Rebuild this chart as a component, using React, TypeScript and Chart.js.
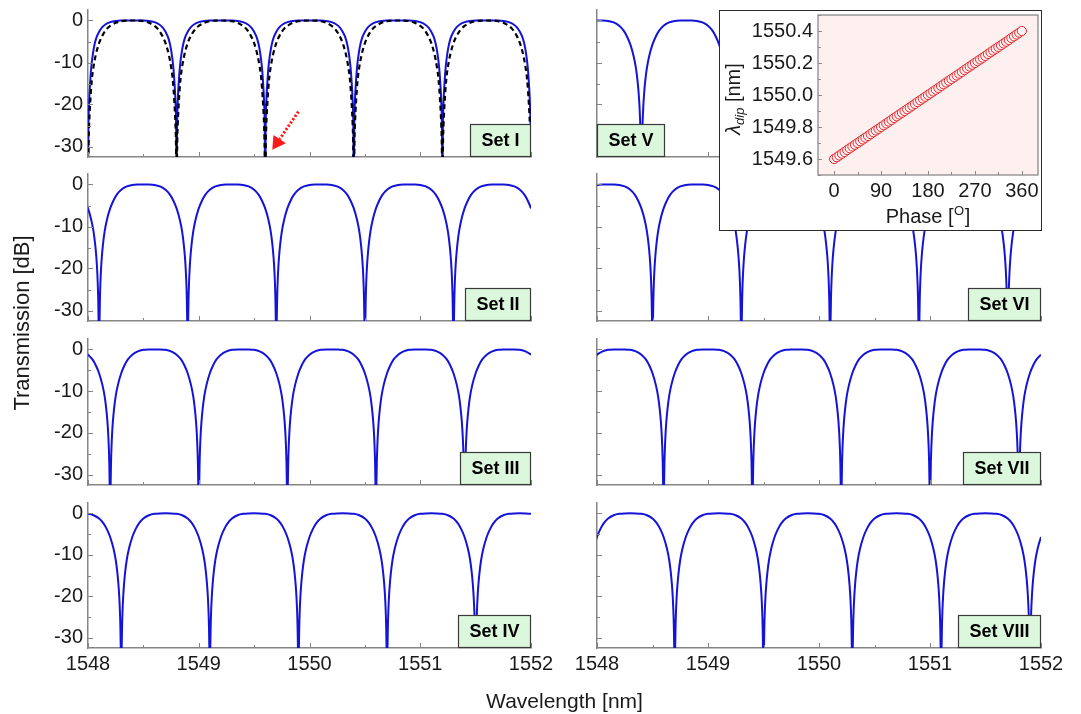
import React, { useEffect, useRef } from 'react';
import { Chart, registerables } from 'chart.js';

Chart.register(...registerables);

// ---------------- data ----------------
const X_MIN = 1548;
const X_MAX = 1552;
const Y_MIN = -32.5;
const Y_MAX = 2.5;
const X_MAJOR = [1548, 1549, 1550, 1551, 1552];
const X_MINOR = [1548.5, 1549.5, 1550.5, 1551.5];
const Y_MAJOR = [0, -10, -20, -30];
const Y_MINOR = [-5, -15, -25];

// dip shape: distance from a dip (nm) -> transmission (dB)
const PROFILE_OFFSET = [0, 0.004, 0.008, 0.012, 0.018, 0.025, 0.035, 0.05, 0.07, 0.1, 0.13, 0.16, 0.2, 0.25, 0.3, 0.35, 0.4];
const PROFILE_DB = [-45, -33, -27, -23.5, -20, -17.2, -14.3, -11.2, -8.5, -5.7, -3.8, -2.4, -1.25, -0.45, -0.1, -0.01, 0];

// Set I solid (flat-top) curve
const SET1_OFFSET = [0, 0.004, 0.01, 0.02, 0.03, 0.045, 0.06, 0.08, 0.1, 0.125, 0.16, 0.2, 0.25, 0.3, 0.4];
const SET1_DB = [-45, -26, -19.5, -14.5, -11, -7.8, -5.6, -3.8, -2.7, -1.7, -0.9, -0.4, -0.1, -0.02, 0];

// Set I dashed reference curve
const REF_OFFSET = [0, 0.005, 0.01, 0.02, 0.035, 0.05, 0.07, 0.1, 0.13, 0.17, 0.2, 0.25, 0.3, 0.35, 0.4];
const REF_DB = [-45, -30, -25, -19.5, -14, -11, -8.2, -5.4, -3.6, -2.0, -1.3, -0.55, -0.15, -0.02, 0];

const SET_NAMES = ['Set I', 'Set II', 'Set III', 'Set IV', 'Set V', 'Set VI', 'Set VII', 'Set VIII'];
const DIPS_I = [1547.2, 1548.0, 1548.8, 1549.6, 1550.4, 1551.2, 1552.0, 1552.8];
const DIPS_II = [1547.3, 1548.1, 1548.9, 1549.7, 1550.5, 1551.3, 1552.1];
const DIPS_III = [1547.4, 1548.2, 1549.0, 1549.8, 1550.6, 1551.4, 1552.2];
const DIPS_IV = [1547.5, 1548.3, 1549.1, 1549.9, 1550.7, 1551.5, 1552.3];
const DIPS_V = [1547.6, 1548.4, 1549.2, 1550.0, 1550.8, 1551.6, 1552.4];
const DIPS_VI = [1547.7, 1548.5, 1549.3, 1550.1, 1550.9, 1551.7, 1552.5];
const DIPS_VII = [1547.8, 1548.6, 1549.4, 1550.2, 1551.0, 1551.8, 1552.6];
const DIPS_VIII = [1547.9, 1548.7, 1549.5, 1550.3, 1551.1, 1551.9, 1552.7];

// red arrow in Set I (wavelength, dB)
const ARROW_TAIL = [1549.9, -21.7];
const ARROW_TIP = [1549.664, -30.8];

// inset
const PHASE_DEG = [0, 5, 10, 15, 20, 25, 30, 35, 40, 45, 50, 55, 60, 65, 70, 75, 80, 85, 90, 95, 100, 105, 110, 115, 120, 125, 130, 135, 140, 145, 150, 155, 160, 165, 170, 175, 180, 185, 190, 195, 200, 205, 210, 215, 220, 225, 230, 235, 240, 245, 250, 255, 260, 265, 270, 275, 280, 285, 290, 295, 300, 305, 310, 315, 320, 325, 330, 335, 340, 345, 350, 355, 360];
const LAMBDA_DIP = [1549.600, 1549.611, 1549.622, 1549.633, 1549.644, 1549.656, 1549.667, 1549.678, 1549.689, 1549.700, 1549.711, 1549.722, 1549.733, 1549.744, 1549.756, 1549.767, 1549.778, 1549.789, 1549.800, 1549.811, 1549.822, 1549.833, 1549.844, 1549.856, 1549.867, 1549.878, 1549.889, 1549.900, 1549.911, 1549.922, 1549.933, 1549.944, 1549.956, 1549.967, 1549.978, 1549.989, 1550.000, 1550.011, 1550.022, 1550.033, 1550.044, 1550.056, 1550.067, 1550.078, 1550.089, 1550.100, 1550.111, 1550.122, 1550.133, 1550.144, 1550.156, 1550.167, 1550.178, 1550.189, 1550.200, 1550.211, 1550.222, 1550.233, 1550.244, 1550.256, 1550.267, 1550.278, 1550.289, 1550.300, 1550.311, 1550.322, 1550.333, 1550.344, 1550.356, 1550.367, 1550.378, 1550.389, 1550.400];
const INSET_X_MAJOR = [0, 90, 180, 270, 360];
const INSET_X_MINOR = [45, 135, 225, 315];
const INSET_Y_MAJOR = [1549.6, 1549.8, 1550.0, 1550.2, 1550.4];
const INSET_Y_MINOR = [1549.5, 1549.7, 1549.9, 1550.1, 1550.3, 1550.5];

// ---------------- styles / layout ----------------
const FONT = '"Liberation Sans", Arial, Helvetica, sans-serif';
const TEXT = '#1a1a1a';
const AXIS = '#858585';
const BLUE = '#1414d8';
const ROW_TOPS = [10, 174, 339, 503];
const ROW_HEIGHTS = [147, 147, 146, 145];
const PAD_TOP = 20;

type Pt = { x: number; y: number };

function buildCurve(dips: number[], offs: number[], vals: number[]): Pt[] {
  const map = new Map<string, Pt>();
  for (const dip of dips) {
    for (let i = 0; i < offs.length; i++) {
      for (const s of [-1, 1]) {
        const x = dip + s * offs[i];
        const key = x.toFixed(4);
        map.set(key, { x: parseFloat(key), y: vals[i] });
      }
    }
  }
  return Array.from(map.values()).sort((a, b) => a.x - b.x);
}

function tickMarks(xMaj: number[], xMin: number[], yMaj: number[], yMin: number[], majLen: number, minLen: number, color: string) {
  return {
    id: 'tickMarks',
    afterDraw(chart: any) {
      const { ctx, chartArea: a, scales } = chart;
      const xs = scales.x, ys = scales.y;
      ctx.save();
      ctx.strokeStyle = color;
      ctx.lineWidth = 1;
      ctx.beginPath();
      const xt = (v: number, len: number) => {
        const p = Math.round(xs.getPixelForValue(v)) + 0.5;
        ctx.moveTo(p, a.bottom);
        ctx.lineTo(p, a.bottom - len);
      };
      const yt = (v: number, len: number) => {
        const p = Math.round(ys.getPixelForValue(v)) + 0.5;
        ctx.moveTo(a.left, p);
        ctx.lineTo(a.left + len, p);
      };
      xMaj.forEach((v) => xt(v, majLen));
      xMin.forEach((v) => xt(v, minLen));
      yMaj.forEach((v) => yt(v, majLen));
      yMin.forEach((v) => yt(v, minLen));
      ctx.stroke();
      ctx.restore();
    },
  };
}

function labelBox(text: string, alignLeft: boolean) {
  return {
    id: 'labelBox',
    afterDraw(chart: any) {
      const { ctx, chartArea: a } = chart;
      ctx.save();
      ctx.font = `bold 18px ${FONT}`;
      const tw = ctx.measureText(text).width;
      const w = Math.round(tw + 23);
      const h = 33;
      const x = Math.round(alignLeft ? a.left : a.right - w);
      const y = Math.round(a.bottom - h);
      ctx.fillStyle = '#dcf8dc';
      ctx.fillRect(x, y, w, h);
      ctx.strokeStyle = '#3a3a3a';
      ctx.lineWidth = 1.2;
      ctx.strokeRect(x + 0.5, y + 0.5, w - 1, h - 1);
      ctx.fillStyle = '#000';
      ctx.textAlign = 'center';
      ctx.textBaseline = 'middle';
      ctx.fillText(text, x + w / 2, y + h / 2 + 1);
      ctx.restore();
    },
  };
}

const arrowPlugin = {
  id: 'arrow',
  afterDraw(chart: any) {
    const { ctx, scales } = chart;
    const xs = scales.x, ys = scales.y;
    const x0 = xs.getPixelForValue(ARROW_TAIL[0]);
    const y0 = ys.getPixelForValue(ARROW_TAIL[1]);
    const x1 = xs.getPixelForValue(ARROW_TIP[0]);
    const y1 = ys.getPixelForValue(ARROW_TIP[1]);
    const dx = x1 - x0, dy = y1 - y0;
    const L = Math.hypot(dx, dy);
    const ux = dx / L, uy = dy / L;
    const headL = 13, headW = 7.5;
    const bx = x1 - ux * headL, by = y1 - uy * headL;
    ctx.save();
    ctx.strokeStyle = '#ff1a1a';
    ctx.lineWidth = 3;
    ctx.setLineDash([2.2, 1.8]);
    ctx.beginPath();
    ctx.moveTo(x0, y0);
    ctx.lineTo(bx, by);
    ctx.stroke();
    ctx.setLineDash([]);
    ctx.fillStyle = '#ff1a1a';
    ctx.beginPath();
    ctx.moveTo(x1, y1);
    ctx.lineTo(bx - uy * headW, by + ux * headW);
    ctx.lineTo(bx + uy * headW, by - ux * headW);
    ctx.closePath();
    ctx.fill();
    ctx.restore();
  },
};

type PanelSpec = {
  name: string;
  dips: number[];
  col: number;
  row: number;
  boxLeft?: boolean;
  withRef?: boolean;
};

const PANELS: PanelSpec[] = [
  { name: SET_NAMES[0], dips: DIPS_I, col: 0, row: 0, withRef: true },
  { name: SET_NAMES[1], dips: DIPS_II, col: 0, row: 1 },
  { name: SET_NAMES[2], dips: DIPS_III, col: 0, row: 2 },
  { name: SET_NAMES[3], dips: DIPS_IV, col: 0, row: 3 },
  { name: SET_NAMES[4], dips: DIPS_V, col: 1, row: 0, boxLeft: true },
  { name: SET_NAMES[5], dips: DIPS_VI, col: 1, row: 1 },
  { name: SET_NAMES[6], dips: DIPS_VII, col: 1, row: 2 },
  { name: SET_NAMES[7], dips: DIPS_VIII, col: 1, row: 3 },
];

function Panel({ spec }: { spec: PanelSpec }) {
  const ref = useRef<HTMLCanvasElement>(null);
  const isLeft = spec.col === 0;
  const isBottom = spec.row === 3;
  const canvasLeft = isLeft ? 0 : 560;
  const canvasW = isLeft ? 560 : 521;
  const yAxisW = isLeft ? 88 : 37;
  const padRight = isLeft ? 29 : 40;
  const xAxisH = isBottom ? 45 : 20;
  const canvasTop = ROW_TOPS[spec.row] - PAD_TOP;
  const canvasH = PAD_TOP + ROW_HEIGHTS[spec.row] + xAxisH;

  useEffect(() => {
    const datasets: any[] = [];
    if (spec.withRef) {
      datasets.push({
        data: buildCurve(spec.dips, REF_OFFSET, REF_DB),
        borderColor: '#000',
        borderWidth: 2.2,
        borderDash: [5, 3.5],
        pointRadius: 0,
        cubicInterpolationMode: 'monotone',
        clip: 0,
      });
      datasets.push({
        data: buildCurve(spec.dips, SET1_OFFSET, SET1_DB),
        borderColor: BLUE,
        borderWidth: 2,
        pointRadius: 0,
        cubicInterpolationMode: 'monotone',
        clip: 0,
      });
    } else {
      datasets.push({
        data: buildCurve(spec.dips, PROFILE_OFFSET, PROFILE_DB),
        borderColor: BLUE,
        borderWidth: 2,
        pointRadius: 0,
        cubicInterpolationMode: 'monotone',
        clip: 0,
      });
    }
    const plugins: any[] = [
      tickMarks(X_MAJOR, X_MINOR, Y_MAJOR, Y_MINOR, 5, 3, AXIS),
      labelBox(spec.name, !!spec.boxLeft),
    ];
    if (spec.withRef) plugins.push(arrowPlugin);

    const chart = new Chart(ref.current as HTMLCanvasElement, {
      type: 'line',
      data: { datasets },
      options: {
        animation: false,
        responsive: false,
        maintainAspectRatio: false,
        events: [],
        layout: { padding: { left: 0, right: padRight, top: PAD_TOP, bottom: 0 } },
        plugins: { legend: { display: false }, tooltip: { enabled: false } },
        scales: {
          x: {
            type: 'linear',
            min: X_MIN,
            max: X_MAX,
            afterBuildTicks: (s: any) => {
              s.ticks = X_MAJOR.map((v) => ({ value: v }));
            },
            afterFit: (s: any) => {
              s.height = xAxisH;
            },
            grid: { display: true, drawOnChartArea: false, drawTicks: false },
            border: { display: true, color: AXIS, width: 1.5 },
            ticks: {
              display: isBottom,
              padding: 4,
              maxRotation: 0,
              autoSkip: false,
              color: TEXT,
              font: { family: FONT, size: 20 },
              callback: (v: any) => String(v),
            },
          },
          y: {
            type: 'linear',
            min: Y_MIN,
            max: Y_MAX,
            afterBuildTicks: (s: any) => {
              s.ticks = Y_MAJOR.map((v) => ({ value: v }));
            },
            afterFit: (s: any) => {
              s.width = yAxisW;
            },
            grid: { display: true, drawOnChartArea: false, drawTicks: false },
            border: { display: true, color: AXIS, width: 1.5 },
            ticks: {
              display: isLeft,
              padding: 5,
              autoSkip: false,
              color: TEXT,
              font: { family: FONT, size: 20 },
              callback: (v: any) => String(v),
            },
          },
        },
      } as any,
      plugins,
    });
    return () => chart.destroy();
  }, []);

  return (
    <canvas
      ref={ref}
      width={canvasW}
      height={canvasH}
      style={{ position: 'absolute', left: canvasLeft, top: canvasTop, width: canvasW, height: canvasH }}
    />
  );
}

const INSET_TOP = -10;

const insetDecor = {
  id: 'insetDecor',
  beforeDraw(chart: any) {
    const { ctx, chartArea: a } = chart;
    ctx.save();
    ctx.fillStyle = '#fff0f0';
    ctx.fillRect(a.left, a.top, a.right - a.left, a.bottom - a.top);
    ctx.restore();
  },
  afterDraw(chart: any) {
    const { ctx, chartArea: a } = chart;
    ctx.save();
    ctx.strokeStyle = '#8a8a8a';
    ctx.lineWidth = 1.3;
    ctx.strokeRect(a.left, a.top, a.right - a.left, a.bottom - a.top);
    ctx.fillStyle = TEXT;
    // x title: Phase [°] with superscript O
    const big = `20px ${FONT}`;
    const small = `13px ${FONT}`;
    ctx.font = big;
    const w1 = ctx.measureText('Phase [').width;
    const w3 = ctx.measureText(']').width;
    ctx.font = small;
    const w2 = ctx.measureText('O').width + 1;
    const cx = (a.left + a.right) / 2;
    let x = cx - (w1 + w2 + w3) / 2;
    const base = 223 - INSET_TOP;
    ctx.textBaseline = 'alphabetic';
    ctx.textAlign = 'left';
    ctx.font = big;
    ctx.fillText('Phase [', x, base);
    x += w1;
    ctx.font = small;
    ctx.fillText('O', x + 0.5, base - 8);
    x += w2;
    ctx.font = big;
    ctx.fillText(']', x, base);
    // y title: λdip [nm]
    ctx.translate(14, 99 - INSET_TOP);
    ctx.rotate(-Math.PI / 2);
    const lam = `italic 20px ${FONT}`;
    const sub = `italic 13px ${FONT}`;
    ctx.font = lam;
    const l1 = ctx.measureText('λ').width;
    ctx.font = sub;
    const l2 = ctx.measureText('dip').width;
    ctx.font = big;
    const l3 = ctx.measureText(' [nm]').width;
    let tx = -(l1 + l2 + l3) / 2;
    ctx.font = lam;
    ctx.fillText('λ', tx, 7);
    tx += l1;
    ctx.font = sub;
    ctx.fillText('dip', tx, 11);
    tx += l2;
    ctx.font = big;
    ctx.fillText(' [nm]', tx, 7);
    ctx.restore();
  },
};

function Inset() {
  const ref = useRef<HTMLCanvasElement>(null);
  const W = 343, H = 241;
  useEffect(() => {
    const chart = new Chart(ref.current as HTMLCanvasElement, {
      type: 'scatter',
      data: {
        datasets: [
          {
            data: PHASE_DEG.map((p, i) => ({ x: p, y: LAMBDA_DIP[i] })),
            pointRadius: 4.6,
            pointBorderWidth: 1,
            borderColor: '#e3262b',
            backgroundColor: '#fff2f2',
            clip: false,
          },
        ],
      },
      options: {
        animation: false,
        responsive: false,
        maintainAspectRatio: false,
        events: [],
        layout: { padding: { left: 0, right: 24, top: 25, bottom: 0 } },
        plugins: { legend: { display: false }, tooltip: { enabled: false } },
        scales: {
          x: {
            type: 'linear',
            min: -31,
            max: 391,
            afterBuildTicks: (s: any) => {
              s.ticks = INSET_X_MAJOR.map((v) => ({ value: v }));
            },
            afterFit: (s: any) => {
              s.height = 56;
            },
            grid: { display: true, drawOnChartArea: false, drawTicks: false },
            border: { display: false },
            ticks: {
              padding: 4,
              maxRotation: 0,
              autoSkip: false,
              color: TEXT,
              font: { family: FONT, size: 20 },
              callback: (v: any) => String(v),
            },
          },
          y: {
            type: 'linear',
            min: 1549.5,
            max: 1550.5,
            afterBuildTicks: (s: any) => {
              s.ticks = INSET_Y_MAJOR.map((v) => ({ value: v }));
            },
            afterFit: (s: any) => {
              s.width = 99;
            },
            grid: { display: true, drawOnChartArea: false, drawTicks: false },
            border: { display: false },
            ticks: {
              padding: 5,
              autoSkip: false,
              color: TEXT,
              font: { family: FONT, size: 20 },
              callback: (v: any) => Number(v).toFixed(1),
            },
          },
        },
      } as any,
      plugins: [insetDecor, tickMarks(INSET_X_MAJOR, INSET_X_MINOR, INSET_Y_MAJOR, INSET_Y_MINOR, 4, 3, '#8a8a8a')],
    });
    return () => chart.destroy();
  }, []);
  return (
    <canvas
      ref={ref}
      width={W}
      height={H}
      style={{ position: 'absolute', left: 719, top: INSET_TOP, width: W, height: H }}
    />
  );
}

export default function App() {
  return (
    <div
      style={{
        position: 'absolute',
        left: 0,
        top: 0,
        width: 1081,
        height: 714,
        background: '#ffffff',
        overflow: 'hidden',
        fontFamily: FONT,
      }}
    >
      {PANELS.map((p) => (
        <Panel key={p.name} spec={p} />
      ))}
      <div
        style={{
          position: 'absolute',
          left: 719,
          top: 10,
          width: 323,
          height: 221,
          boxSizing: 'border-box',
          border: '1.3px solid #2a2a2a',
          background: '#ffffff',
        }}
      />
      <Inset />
      <div
        style={{
          position: 'absolute',
          left: 22 - 150,
          top: 323 - 14,
          width: 300,
          height: 28,
          lineHeight: '28px',
          textAlign: 'center',
          fontSize: 22,
          color: TEXT,
          transform: 'rotate(-90deg)',
          transformOrigin: '50% 50%',
          whiteSpace: 'nowrap',
        }}
      >
        Transmission [dB]
      </div>
      <div
        style={{
          position: 'absolute',
          left: 564.5 - 150,
          top: 701 - 13,
          width: 300,
          height: 26,
          lineHeight: '26px',
          textAlign: 'center',
          fontSize: 21,
          color: TEXT,
          whiteSpace: 'nowrap',
        }}
      >
        Wavelength [nm]
      </div>
    </div>
  );
}
